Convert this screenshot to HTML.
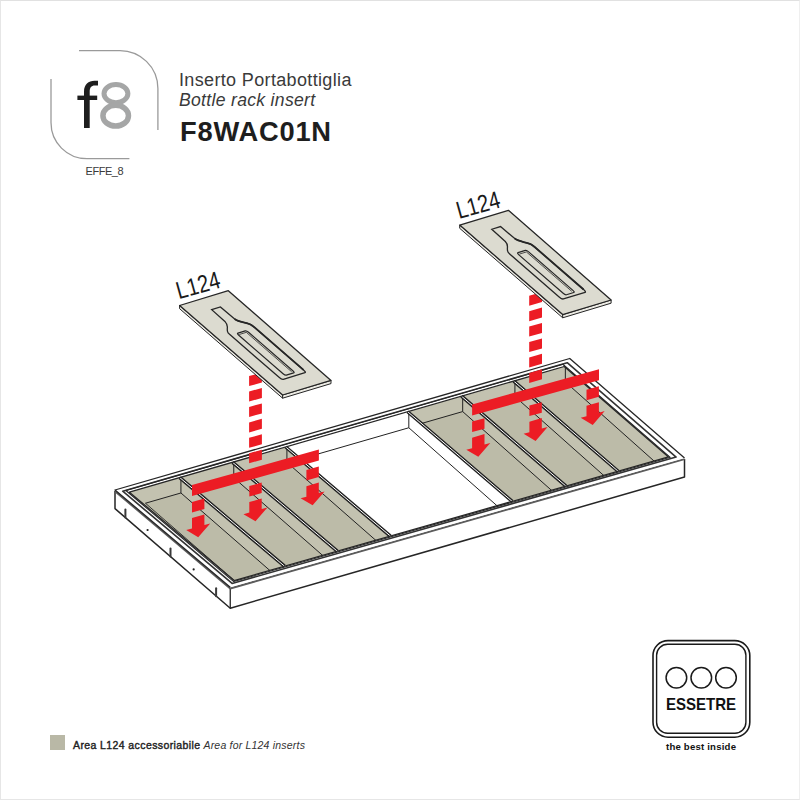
<!DOCTYPE html>
<html><head><meta charset="utf-8"><style>
html,body{margin:0;padding:0;background:#fff;}
body{width:800px;height:800px;position:relative;overflow:hidden;font-family:"Liberation Sans",sans-serif;}
.t{position:absolute;white-space:nowrap;line-height:1;}
</style></head><body>
<div style="position:absolute;left:0;top:0;width:800px;height:800px;box-sizing:border-box;border:1px solid #e6e6e6;border-top-color:#e1e1e1;border-right-color:#efefef;"></div>
<svg width="800" height="800" viewBox="0 0 800 800" style="position:absolute;left:0;top:0">
<!-- logo f8 -->
<path d="M84,128 L84,91.5 C84,84.5 88.5,80.7 94.5,80.7 L98,80.7 L98,85.4 L94.8,85.4 C91.3,85.4 89.7,87.6 89.7,91.5 L89.7,128 Z" fill="#1e1e1e"/>
<rect x="77.4" y="95.6" width="19.8" height="4.4" fill="#1e1e1e"/>
<ellipse cx="115.95" cy="93.6" rx="11.95" ry="9.1" fill="none" stroke="#a5a6a6" stroke-width="5"/>
<ellipse cx="115.7" cy="115.65" rx="12.78" ry="10.4" fill="none" stroke="#a5a6a6" stroke-width="5.5"/>
<!-- logo frame -->
<path d="M79,50.6 H119 A38,38 0 0 1 157.9,88.6 V130" fill="none" stroke="#9a9a9a" stroke-width="1.3"/>
<path d="M51,79 V122.5 A36,36 0 0 0 87,158.7 H129.4" fill="none" stroke="#9a9a9a" stroke-width="1.3"/>
<polygon points="115.00,490.00 230.25,587.20 230.25,608.20 115.00,508.60" fill="#fff" stroke="none" stroke-width="1" stroke-linejoin="round" />
<polygon points="230.25,587.20 684.50,458.00 684.50,477.00 230.25,608.20" fill="#fff" stroke="none" stroke-width="1" stroke-linejoin="round" />
<polyline points="115.00,490.93 115.00,508.60 230.25,608.20 684.50,477.00 684.50,458.95" fill="none" stroke="#262626" stroke-width="1.5" stroke-linejoin="round" />
<line x1="230.25" y1="588.25" x2="230.25" y2="608.20" stroke="#262626" stroke-width="1.3" />
<polyline points="115.00,491.12 230.25,588.46 684.50,459.14" fill="none" stroke="#5c5c5c" stroke-width="2.0" stroke-linejoin="round" />
<line x1="125.4" y1="509.5" x2="125.4" y2="517.5" stroke="#3a3a3a" stroke-width="2" stroke-linecap="round"/>
<line x1="170.5" y1="548.6" x2="170.5" y2="556.6" stroke="#3a3a3a" stroke-width="2" stroke-linecap="round"/>
<line x1="216.1" y1="588.2" x2="216.1" y2="596.2" stroke="#3a3a3a" stroke-width="2" stroke-linecap="round"/>
<circle cx="147.6" cy="530" r="1.1" fill="#222"/>
<circle cx="193.65" cy="569.4" r="1.1" fill="#222"/>
<polygon points="115.00,490.00 569.75,358.50 684.50,458.00 230.25,587.20" fill="#fff" stroke="none" stroke-width="1" stroke-linejoin="round" />
<polyline points="230.25,587.20 115.00,490.00 569.75,358.50 684.50,458.00" fill="none" stroke="#262626" stroke-width="1.3" stroke-linejoin="round" />
<polygon points="122.71,491.18 567.20,362.70 676.11,457.10 232.08,583.45" fill="none" stroke="#333" stroke-width="1.6" stroke-linejoin="round" />
<polygon points="125.85,490.54 562.81,364.24 670.23,457.33 233.72,581.56" fill="none" stroke="#262626" stroke-width="1.1" stroke-linejoin="round" />
<clipPath id="open"><polygon points="129.37,492.14 564.20,366.50 668.51,456.90 234.13,580.53"/></clipPath>
<g clip-path="url(#open)">
<polygon points="129.37,492.14 564.20,366.50 668.51,456.90 234.13,580.53" fill="#fff" stroke="none" stroke-width="1" stroke-linejoin="round" />
<line x1="264.29" y1="469.50" x2="408.82" y2="427.75" stroke="#222" stroke-width="1" />
<line x1="408.82" y1="410.72" x2="408.82" y2="427.75" stroke="#222" stroke-width="1" />
<line x1="408.82" y1="427.75" x2="517.86" y2="524.18" stroke="#222" stroke-width="1" />
</g>
<clipPath id="c197"><polygon points="129.37,492.14 179.78,477.58 284.48,566.20 234.13,580.53"/></clipPath>
<g clip-path="url(#c197)">
<polygon points="101.22,493.72 173.99,472.68 290.21,571.05 217.52,591.73" fill="#c3c2b0" stroke="none" stroke-width="1" stroke-linejoin="round" />
<polygon points="145.44,503.23 180.93,492.98 290.21,588.21 254.76,598.29" fill="#bcbba8" stroke="none" stroke-width="1" stroke-linejoin="round" />
<line x1="145.44" y1="503.23" x2="254.76" y2="598.29" stroke="#222" stroke-width="0.9" />
<line x1="145.44" y1="503.23" x2="180.93" y2="492.98" stroke="#222" stroke-width="1" />
<line x1="180.93" y1="476.56" x2="180.93" y2="492.98" stroke="#222" stroke-width="1" />
<line x1="180.93" y1="492.98" x2="290.21" y2="588.21" stroke="#222" stroke-width="1" />
</g>
<clipPath id="c1321"><polygon points="179.78,477.58 232.62,462.31 337.27,551.18 284.48,566.20"/></clipPath>
<g clip-path="url(#c1321)">
<polygon points="151.54,479.17 226.83,457.40 343.00,556.04 267.79,577.43" fill="#c3c2b0" stroke="none" stroke-width="1" stroke-linejoin="round" />
<polygon points="158.49,499.47 233.77,477.72 343.00,573.20 267.79,594.59" fill="#bcbba8" stroke="none" stroke-width="1" stroke-linejoin="round" />
<line x1="158.49" y1="499.47" x2="233.77" y2="477.72" stroke="#222" stroke-width="1" />
<line x1="233.77" y1="461.29" x2="233.77" y2="477.72" stroke="#222" stroke-width="1" />
<line x1="233.77" y1="477.72" x2="343.00" y2="573.20" stroke="#222" stroke-width="1" />
</g>
<clipPath id="c2495"><polygon points="232.62,462.31 285.75,446.96 390.36,536.07 337.27,551.18"/></clipPath>
<g clip-path="url(#c2495)">
<polygon points="204.30,463.91 279.97,442.03 396.08,540.94 320.49,562.44" fill="#c3c2b0" stroke="none" stroke-width="1" stroke-linejoin="round" />
<polygon points="211.24,484.22 286.91,462.37 396.08,558.10 320.49,579.60" fill="#bcbba8" stroke="none" stroke-width="1" stroke-linejoin="round" />
<line x1="211.24" y1="484.22" x2="286.91" y2="462.37" stroke="#222" stroke-width="1" />
<line x1="286.91" y1="445.94" x2="286.91" y2="462.37" stroke="#222" stroke-width="1" />
<line x1="286.91" y1="462.37" x2="396.08" y2="558.10" stroke="#222" stroke-width="1" />
</g>
<clipPath id="c6352"><polygon points="407.66,411.73 461.52,396.17 565.95,486.09 512.14,501.40"/></clipPath>
<g clip-path="url(#c6352)">
<polygon points="379.07,413.37 455.75,391.20 571.66,491.01 495.07,512.79" fill="#c3c2b0" stroke="none" stroke-width="1" stroke-linejoin="round" />
<polygon points="386.00,433.74 462.68,411.59 571.66,508.17 495.07,529.95" fill="#bcbba8" stroke="none" stroke-width="1" stroke-linejoin="round" />
<line x1="386.00" y1="433.74" x2="462.68" y2="411.59" stroke="#222" stroke-width="1" />
<line x1="462.68" y1="395.16" x2="462.68" y2="411.59" stroke="#222" stroke-width="1" />
<line x1="462.68" y1="411.59" x2="571.66" y2="508.17" stroke="#222" stroke-width="1" />
</g>
<clipPath id="c7529"><polygon points="461.52,396.17 513.75,381.08 618.13,471.24 565.95,486.09"/></clipPath>
<g clip-path="url(#c7529)">
<polygon points="432.84,397.82 507.98,376.09 623.84,476.17 548.78,497.52" fill="#c3c2b0" stroke="none" stroke-width="1" stroke-linejoin="round" />
<polygon points="439.77,418.20 514.91,396.50 623.84,493.33 548.78,514.67" fill="#bcbba8" stroke="none" stroke-width="1" stroke-linejoin="round" />
<line x1="439.77" y1="418.20" x2="514.91" y2="396.50" stroke="#222" stroke-width="1" />
<line x1="514.91" y1="380.07" x2="514.91" y2="396.50" stroke="#222" stroke-width="1" />
<line x1="514.91" y1="396.50" x2="623.84" y2="493.33" stroke="#222" stroke-width="1" />
</g>
<clipPath id="c8666"><polygon points="513.75,381.08 564.20,366.50 668.51,456.90 618.13,471.24"/></clipPath>
<g clip-path="url(#c8666)">
<polygon points="484.99,382.74 558.43,361.51 674.22,461.84 600.87,482.70" fill="#c3c2b0" stroke="none" stroke-width="1" stroke-linejoin="round" />
<polygon points="491.92,403.14 565.35,381.93 674.22,479.00 600.87,499.86" fill="#bcbba8" stroke="none" stroke-width="1" stroke-linejoin="round" />
<line x1="491.92" y1="403.14" x2="565.35" y2="381.93" stroke="#222" stroke-width="1" />
<line x1="565.35" y1="365.50" x2="565.35" y2="381.93" stroke="#222" stroke-width="1" />
<line x1="565.35" y1="381.93" x2="674.22" y2="479.00" stroke="#222" stroke-width="1" />
</g>
<line x1="179.78" y1="477.58" x2="284.48" y2="566.20" stroke="#222" stroke-width="3.5" />
<line x1="179.78" y1="477.58" x2="284.48" y2="566.20" stroke="#fff" stroke-width="1.0" />
<line x1="232.62" y1="462.31" x2="337.27" y2="551.18" stroke="#222" stroke-width="3.5" />
<line x1="232.62" y1="462.31" x2="337.27" y2="551.18" stroke="#fff" stroke-width="1.0" />
<line x1="285.75" y1="446.96" x2="390.36" y2="536.07" stroke="#222" stroke-width="3.5" />
<line x1="285.75" y1="446.96" x2="390.36" y2="536.07" stroke="#fff" stroke-width="1.0" />
<line x1="407.66" y1="411.73" x2="512.14" y2="501.40" stroke="#222" stroke-width="3.5" />
<line x1="407.66" y1="411.73" x2="512.14" y2="501.40" stroke="#fff" stroke-width="1.0" />
<line x1="461.52" y1="396.17" x2="565.95" y2="486.09" stroke="#222" stroke-width="3.5" />
<line x1="461.52" y1="396.17" x2="565.95" y2="486.09" stroke="#fff" stroke-width="1.0" />
<line x1="513.75" y1="381.08" x2="618.13" y2="471.24" stroke="#222" stroke-width="3.5" />
<line x1="513.75" y1="381.08" x2="618.13" y2="471.24" stroke="#fff" stroke-width="1.0" />
<polygon points="129.37,492.14 564.20,366.50 668.51,456.90 234.13,580.53" fill="none" stroke="#262626" stroke-width="1.3" stroke-linejoin="round" />
<g><text x="0" y="0" transform="translate(178.8,299.3) rotate(-15.6)" font-family="Liberation Sans" font-size="24.5" fill="#1a1a1a" textLength="44.5" lengthAdjust="spacingAndGlyphs">L124</text>
<polygon points="249.10,376.09 261.90,372.51 261.90,382.51 249.10,386.09" fill="#ec1c24"/>
<polygon points="249.10,391.53 261.90,387.95 261.90,397.95 249.10,401.53" fill="#ec1c24"/>
<polygon points="249.10,406.97 261.90,403.39 261.90,413.39 249.10,416.97" fill="#ec1c24"/>
<polygon points="249.10,422.41 261.90,418.83 261.90,428.83 249.10,432.41" fill="#ec1c24"/>
<polygon points="249.10,437.85 261.90,434.27 261.90,444.27 249.10,447.85" fill="#ec1c24"/>
<polygon points="249.10,453.29 261.90,449.71 261.90,459.71 249.10,463.29" fill="#ec1c24"/>
<polygon points="192.00,485.00 318.90,449.60 318.90,460.60 192.00,496.00" fill="#ec1c24"/>
<polygon points="192.00,502.00 204.40,498.54 204.40,509.04 192.00,512.50" fill="#ec1c24"/>
<polygon points="192.00,518.06 204.40,514.48 204.40,524.98 210.20,523.42 198.20,537.27 186.20,530.12 192.00,528.56" fill="#ec1c24"/>
<polygon points="249.30,486.01 261.70,482.55 261.70,493.05 249.30,496.51" fill="#ec1c24"/>
<polygon points="249.30,502.07 261.70,498.50 261.70,509.00 267.50,507.44 255.50,521.28 243.50,514.13 249.30,512.57" fill="#ec1c24"/>
<polygon points="306.40,470.08 318.80,466.62 318.80,477.12 306.40,480.58" fill="#ec1c24"/>
<polygon points="306.40,486.14 318.80,482.57 318.80,493.07 324.60,491.50 312.60,505.35 300.60,498.20 306.40,496.64" fill="#ec1c24"/>
<polygon points="179.60,305.50 282.60,395.00 282.60,398.20 179.60,308.70" fill="#ecebe4" stroke="#262626" stroke-width="1"/>
<polygon points="282.60,395.00 331.00,380.40 331.00,383.60 282.60,398.20" fill="#ecebe4" stroke="#262626" stroke-width="1"/>
<polygon points="179.60,305.50 228.30,290.70 331.00,380.40 282.60,395.00" fill="#dcdbd0" stroke="#262626" stroke-width="1.3" stroke-linejoin="round"/>
<g transform="matrix(48.70000000000002,-14.800000000000011,103.00000000000003,89.5,179.6,305.5)" fill="none" stroke="#262626">
<path d="M0.415,0.115 L0.595,0.115 L0.602,0.25 C0.61,0.29 0.70,0.30 0.745,0.335 C0.755,0.345 0.757,0.355 0.757,0.37 L0.757,0.845 Q0.757,0.872 0.73,0.872 L0.285,0.872 Q0.255,0.872 0.255,0.845 L0.255,0.37 C0.255,0.35 0.265,0.34 0.275,0.335 C0.33,0.30 0.40,0.29 0.408,0.25 Z" stroke-width="1.3" vector-effect="non-scaling-stroke"/>
<path d="M0.602,0.25 C0.61,0.29 0.70,0.30 0.745,0.335 C0.755,0.345 0.757,0.355 0.757,0.37 L0.757,0.845" stroke-width="1.8" vector-effect="non-scaling-stroke"/>
<path d="M0.38,0.395 Q0.38,0.375 0.405,0.375 L0.555,0.375 Q0.58,0.375 0.58,0.395 L0.58,0.825 Q0.58,0.845 0.555,0.845 L0.405,0.845 Q0.38,0.845 0.38,0.825 Z" stroke-width="1.2" vector-effect="non-scaling-stroke"/>
<path d="M0.40,0.39 L0.545,0.39 L0.545,0.83" stroke-width="0.8" vector-effect="non-scaling-stroke"/>
</g></g>
<g transform="translate(280.1,-80.4)"><text x="0" y="0" transform="translate(178.8,299.3) rotate(-15.6)" font-family="Liberation Sans" font-size="24.5" fill="#1a1a1a" textLength="44.5" lengthAdjust="spacingAndGlyphs">L124</text>
<polygon points="249.10,376.09 261.90,372.51 261.90,382.51 249.10,386.09" fill="#ec1c24"/>
<polygon points="249.10,391.53 261.90,387.95 261.90,397.95 249.10,401.53" fill="#ec1c24"/>
<polygon points="249.10,406.97 261.90,403.39 261.90,413.39 249.10,416.97" fill="#ec1c24"/>
<polygon points="249.10,422.41 261.90,418.83 261.90,428.83 249.10,432.41" fill="#ec1c24"/>
<polygon points="249.10,437.85 261.90,434.27 261.90,444.27 249.10,447.85" fill="#ec1c24"/>
<polygon points="249.10,453.29 261.90,449.71 261.90,459.71 249.10,463.29" fill="#ec1c24"/>
<polygon points="192.00,485.00 318.90,449.60 318.90,460.60 192.00,496.00" fill="#ec1c24"/>
<polygon points="192.00,502.00 204.40,498.54 204.40,509.04 192.00,512.50" fill="#ec1c24"/>
<polygon points="192.00,518.06 204.40,514.48 204.40,524.98 210.20,523.42 198.20,537.27 186.20,530.12 192.00,528.56" fill="#ec1c24"/>
<polygon points="249.30,486.01 261.70,482.55 261.70,493.05 249.30,496.51" fill="#ec1c24"/>
<polygon points="249.30,502.07 261.70,498.50 261.70,509.00 267.50,507.44 255.50,521.28 243.50,514.13 249.30,512.57" fill="#ec1c24"/>
<polygon points="306.40,470.08 318.80,466.62 318.80,477.12 306.40,480.58" fill="#ec1c24"/>
<polygon points="306.40,486.14 318.80,482.57 318.80,493.07 324.60,491.50 312.60,505.35 300.60,498.20 306.40,496.64" fill="#ec1c24"/>
<polygon points="179.60,305.50 282.60,395.00 282.60,398.20 179.60,308.70" fill="#ecebe4" stroke="#262626" stroke-width="1"/>
<polygon points="282.60,395.00 331.00,380.40 331.00,383.60 282.60,398.20" fill="#ecebe4" stroke="#262626" stroke-width="1"/>
<polygon points="179.60,305.50 228.30,290.70 331.00,380.40 282.60,395.00" fill="#dcdbd0" stroke="#262626" stroke-width="1.3" stroke-linejoin="round"/>
<g transform="matrix(48.70000000000002,-14.800000000000011,103.00000000000003,89.5,179.6,305.5)" fill="none" stroke="#262626">
<path d="M0.415,0.115 L0.595,0.115 L0.602,0.25 C0.61,0.29 0.70,0.30 0.745,0.335 C0.755,0.345 0.757,0.355 0.757,0.37 L0.757,0.845 Q0.757,0.872 0.73,0.872 L0.285,0.872 Q0.255,0.872 0.255,0.845 L0.255,0.37 C0.255,0.35 0.265,0.34 0.275,0.335 C0.33,0.30 0.40,0.29 0.408,0.25 Z" stroke-width="1.3" vector-effect="non-scaling-stroke"/>
<path d="M0.602,0.25 C0.61,0.29 0.70,0.30 0.745,0.335 C0.755,0.345 0.757,0.355 0.757,0.37 L0.757,0.845" stroke-width="1.8" vector-effect="non-scaling-stroke"/>
<path d="M0.38,0.395 Q0.38,0.375 0.405,0.375 L0.555,0.375 Q0.58,0.375 0.58,0.395 L0.58,0.825 Q0.58,0.845 0.555,0.845 L0.405,0.845 Q0.38,0.845 0.38,0.825 Z" stroke-width="1.2" vector-effect="non-scaling-stroke"/>
<path d="M0.40,0.39 L0.545,0.39 L0.545,0.83" stroke-width="0.8" vector-effect="non-scaling-stroke"/>
</g></g>
<!-- essetre logo -->
<rect x="653" y="640.6" width="96.8" height="96.6" rx="15" fill="none" stroke="#1a1a1a" stroke-width="1.6"/>
<rect x="656.6" y="644.25" width="89.3" height="89.05" rx="11" fill="none" stroke="#1a1a1a" stroke-width="1.4"/>
<circle cx="676.4" cy="677.8" r="10.3" fill="none" stroke="#1a1a1a" stroke-width="1.5"/>
<circle cx="701.3" cy="677.8" r="10.3" fill="none" stroke="#1a1a1a" stroke-width="1.5"/>
<circle cx="726.0" cy="677.8" r="10.3" fill="none" stroke="#1a1a1a" stroke-width="1.5"/>
</svg>
<div class="t" style="left:85.5px;top:166px;font-size:11px;color:#3a3a3a;letter-spacing:-0.45px;">EFFE_8</div>
<div class="t" style="left:179px;top:71.1px;font-size:18px;color:#3a3a3a;letter-spacing:0.35px;">Inserto Portabottiglia</div>
<div class="t" style="left:179px;top:92.4px;font-size:17.6px;color:#3a3a3a;font-style:italic;letter-spacing:0.3px;">Bottle rack insert</div>
<div class="t" style="left:180px;top:117.7px;font-size:27.3px;color:#1e1e1e;font-weight:bold;letter-spacing:0.78px;">F8WAC01N</div>
<div style="position:absolute;left:50px;top:735px;width:15px;height:15px;background:#b9b8a6;"></div>
<div class="t" style="left:73px;top:740.4px;font-size:10.5px;color:#222;"><span style="-webkit-text-stroke:0.4px #222;letter-spacing:0.4px">Area L124 accessoriabile</span> <i style="color:#333;letter-spacing:0.2px">Area for L124 inserts</i></div>
<div class="t" style="left:666px;top:697.3px;font-size:16.6px;color:#111;font-weight:bold;transform:scaleX(0.905);transform-origin:0 0;">ESSETRE</div>
<div class="t" style="left:666px;top:742.3px;font-size:9.6px;color:#111;font-weight:bold;letter-spacing:0.2px;">the best inside</div>
</body></html>
